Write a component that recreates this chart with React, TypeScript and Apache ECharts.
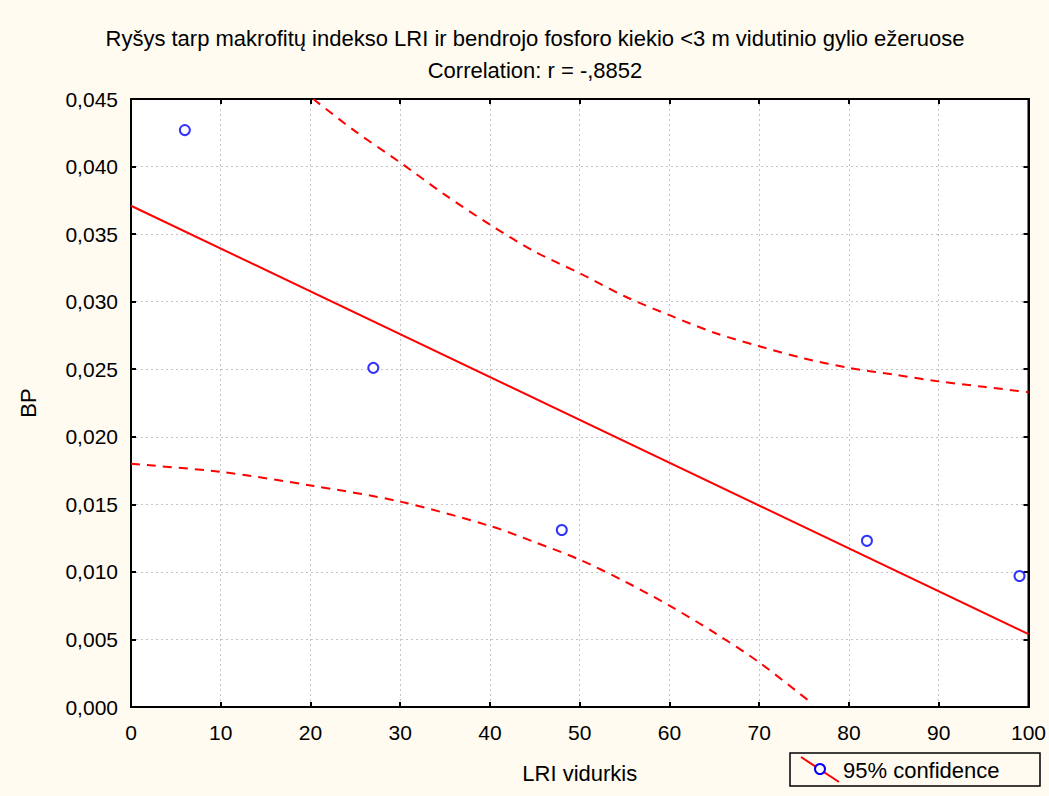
import React, { useEffect, useRef } from "react";
import * as echarts from "echarts";

const titleText = "Ryšys tarp makrofitų indekso LRI ir bendrojo fosforo kiekio <3 m vidutinio gylio ežeruose";
const subtitleText = "Correlation: r = -,8852";
const xName = "LRI vidurkis";
const yName = "BP";
const legendText = "95% confidence";

const pointsX = [6, 27, 48, 82, 99];
const pointsY = [0.0427, 0.0251, 0.0131, 0.0123, 0.0097];

const fitX = [0, 100];
const fitY = [0.0371, 0.0054];

const upperX = [20.3, 25, 30, 35, 40, 45, 50, 55, 60, 65, 70, 75, 80, 85, 90, 95, 100];
const upperY = [0.045, 0.0426, 0.0403, 0.0379, 0.0357, 0.0337, 0.0321, 0.0304, 0.029, 0.0277, 0.0267, 0.0258, 0.0251, 0.0246, 0.0241, 0.0237, 0.0233];

const lowerX = [0, 10, 20, 30, 40, 45, 50, 55, 60, 65, 70, 76];
const lowerY = [0.018, 0.0174, 0.0164, 0.0152, 0.0134, 0.0122, 0.0109, 0.0093, 0.0075, 0.0055, 0.0033, 0.0002];

const FONT = "'Liberation Sans', Arial, sans-serif";
const BG = "#fffbf0";

export default function App() {
  const ref = useRef<HTMLDivElement>(null);
  useEffect(() => {
    document.body.style.margin = "0";
    const chart = echarts.init(ref.current!, null, { renderer: "svg" });
    const fmtY = (v: number) => v.toFixed(3).replace(".", ",");
    const grid = { left: 131, right: 20, top: 99, bottom: 89 };
    const gridLine = { show: true, lineStyle: { color: "#c4c4c4", type: [2, 3], width: 1 } };
    const tick = { show: true, inside: true, length: 5, lineStyle: { color: "#000", width: 2 } };
    const axLine = { show: true, onZero: false, lineStyle: { color: "#000", width: 2 } };
    chart.setOption({
      animation: false,
      backgroundColor: BG,
      textStyle: { fontFamily: FONT },
      grid: { ...grid, show: true, backgroundColor: "#ffffff", borderColor: "#000", borderWidth: 2 },
      xAxis: [
        {
          type: "value", min: 0, max: 100, interval: 10,
          name: xName, nameLocation: "middle", nameGap: 55,
          nameTextStyle: { fontSize: 22, color: "#000", fontFamily: FONT },
          axisLine: axLine, axisTick: tick,
          axisLabel: { fontSize: 21, color: "#000", margin: 15, fontFamily: FONT },
          splitLine: gridLine,
        },
        {
          type: "value", min: 0, max: 100, interval: 10, position: "top",
          axisLine: axLine, axisTick: tick,
          axisLabel: { show: false }, splitLine: { show: false },
        },
      ],
      yAxis: [
        {
          type: "value", min: 0, max: 0.045, interval: 0.005,
          name: yName, nameLocation: "middle", nameGap: 92, nameRotate: 90,
          nameTextStyle: { fontSize: 22, color: "#000", fontFamily: FONT },
          axisLine: axLine, axisTick: tick,
          axisLabel: { fontSize: 21, color: "#000", margin: 13, formatter: fmtY, fontFamily: FONT },
          splitLine: gridLine,
        },
        {
          type: "value", min: 0, max: 0.045, interval: 0.005, position: "right",
          axisLine: axLine, axisTick: tick,
          axisLabel: { show: false }, splitLine: { show: false },
        },
      ],
      graphic: [
        { type: "text", x: 535, y: 38, style: { text: titleText, fill: "#000", font: `22px ${FONT}`, textAlign: "center", textVerticalAlign: "middle" } },
        { type: "text", x: 535, y: 70, style: { text: subtitleText, fill: "#000", font: `22px ${FONT}`, textAlign: "center", textVerticalAlign: "middle" } },
        { type: "rect", shape: { x: 790, y: 753, width: 250, height: 33 }, style: { fill: BG, stroke: "#000", lineWidth: 1.5 } },
        { type: "line", shape: { x1: 801, y1: 757, x2: 839, y2: 782 }, style: { stroke: "#ff0000", lineWidth: 2 } },
        { type: "circle", shape: { cx: 820, cy: 769, r: 5 }, style: { fill: BG, stroke: "#0000ff", lineWidth: 2 } },
        { type: "text", x: 843, y: 770, style: { text: legendText, fill: "#000", font: `22px ${FONT}`, textVerticalAlign: "middle" } },
      ],
      series: [
        {
          type: "line", name: "fit", data: fitX.map((x, i) => [x, fitY[i]]),
          showSymbol: false, lineStyle: { color: "#ff0000", width: 2 }, silent: true,
        },
        {
          type: "line", name: "upper", data: upperX.map((x, i) => [x, upperY[i]]),
          showSymbol: false, smooth: 0.3, lineStyle: { color: "#ff0000", width: 2, type: [9, 7] }, silent: true,
        },
        {
          type: "line", name: "lower", data: lowerX.map((x, i) => [x, lowerY[i]]),
          showSymbol: false, smooth: 0.3, lineStyle: { color: "#ff0000", width: 2, type: [9, 7] }, silent: true,
        },
        {
          type: "scatter", name: "points", data: pointsX.map((x, i) => [x, pointsY[i]]),
          symbol: "circle", symbolSize: 10,
          itemStyle: { color: "#ffffff", borderColor: "#0000ff", borderWidth: 2 },
        },
      ],
    });
    return () => chart.dispose();
  }, []);
  return <div ref={ref} style={{ width: 1049, height: 796 }} />;
}
